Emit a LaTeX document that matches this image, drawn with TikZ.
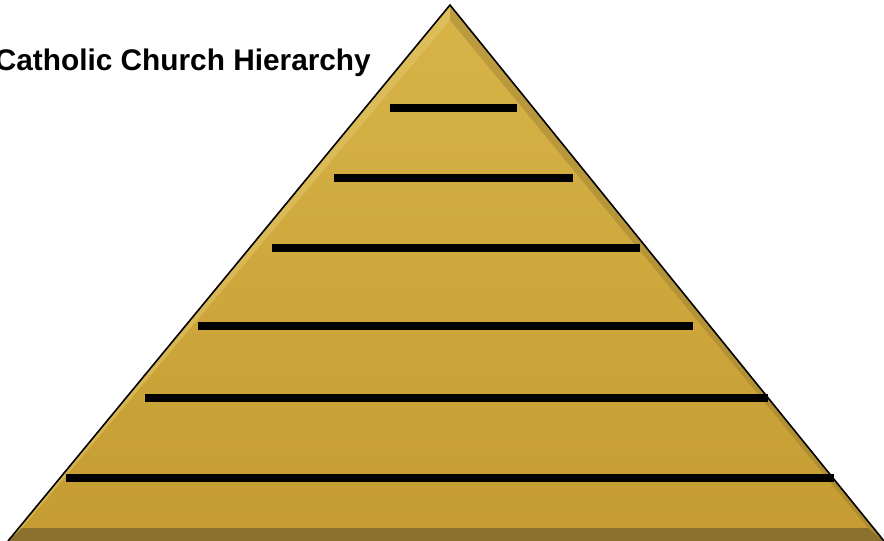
\documentclass[tikz,border=0pt]{standalone}
\usepackage{fontspec}
\setmainfont{Liberation Sans}
\begin{document}
\begin{tikzpicture}[x=1pt,y=-1pt,
  rung/.style={line width=8.5pt,black},
  title/.style={font=\bfseries\fontsize{29.8}{34}\selectfont,inner sep=0pt}]
\definecolor{goldA}{RGB}{196,156,50}
\definecolor{goldB}{RGB}{216,180,72}
\definecolor{goldD}{RGB}{125,102,45}
\definecolor{goldL}{RGB}{228,200,110}
\useasboundingbox (0,0) rectangle (884,541);
\begin{scope}
\clip (0,0) rectangle (884,541);
% pyramid
\coordinate (apex) at (450,5);
\coordinate (bl) at (8,541);
\coordinate (br) at (884,541);
\fill[top color=goldB,bottom color=goldA] (apex) -- (br) -- (bl) -- cycle;
% bevel edges
\fill[goldL,opacity=0.5] (apex) -- (bl) -- (22,528) -- (450,20) -- cycle;
\fill[goldD,opacity=0.3] (apex) -- (br) -- (868,528) -- (450,20) -- cycle;
\fill[goldD,opacity=0.8] (bl) -- (br) -- (868,528) -- (22,528) -- cycle;
\draw[line width=1.6pt,black,line join=miter] (bl) -- (apex) -- (br);
% rungs
\coordinate (r1a) at (390,108); \coordinate (r1b) at (517,108);
\coordinate (r2a) at (334,178); \coordinate (r2b) at (573,178);
\coordinate (r3a) at (272,248); \coordinate (r3b) at (640,248);
\coordinate (r4a) at (198,326); \coordinate (r4b) at (693,326);
\coordinate (r5a) at (145,398); \coordinate (r5b) at (768,398);
\coordinate (r6a) at (66,478);  \coordinate (r6b) at (834,478);
\draw[rung] (r1a) -- (r1b);
\draw[rung] (r2a) -- (r2b);
\draw[rung] (r3a) -- (r3b);
\draw[rung] (r4a) -- (r4b);
\draw[rung] (r5a) -- (r5b);
\draw[rung] (r6a) -- (r6b);
% title
\node[title,anchor=base east] (ttl) at (371,70) {Catholic Church Hierarchy};
\end{scope}
\end{tikzpicture}
\end{document}
